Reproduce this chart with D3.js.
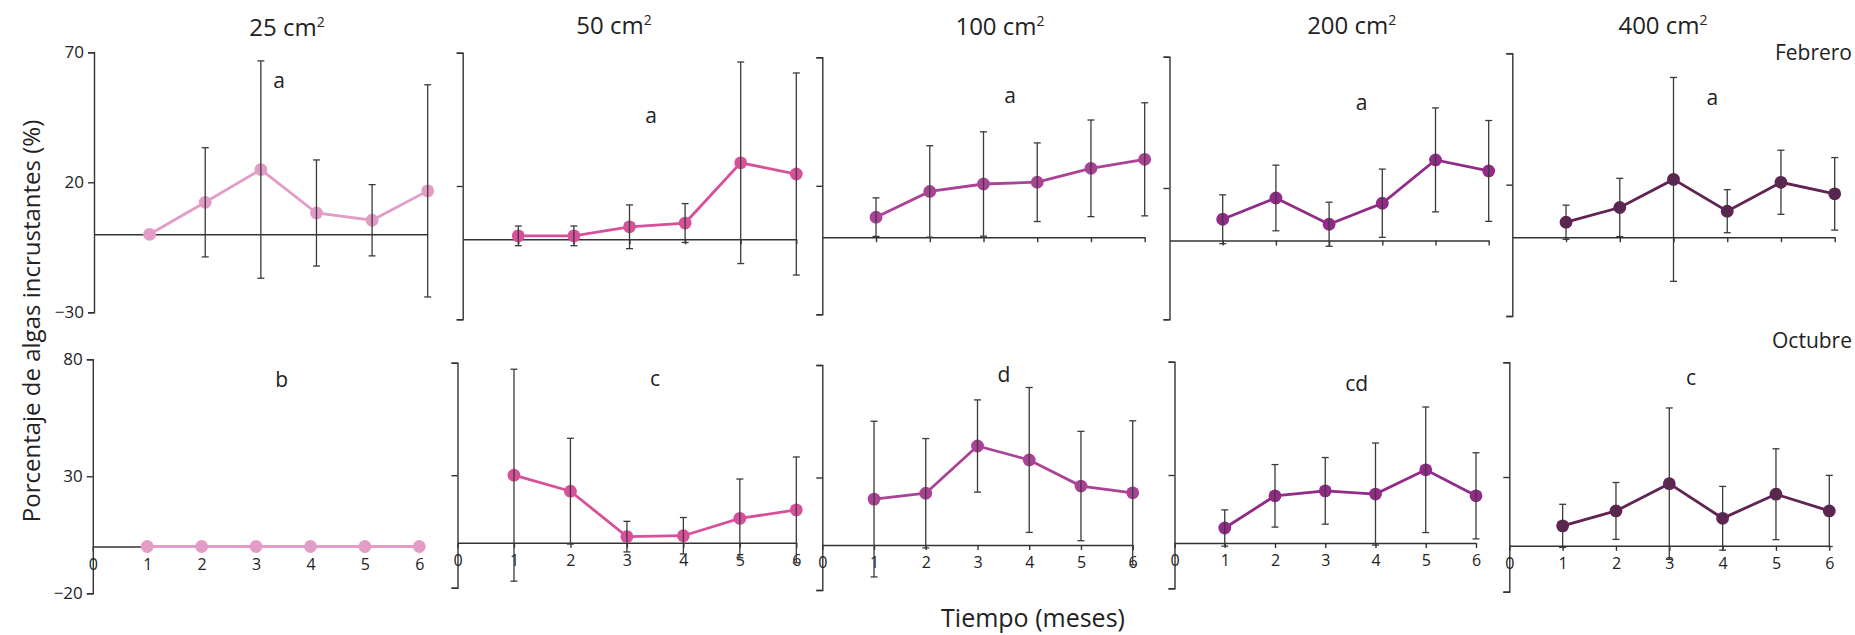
<!DOCTYPE html>
<html>
<head>
<meta charset="utf-8">
<script src="https://cdn.jsdelivr.net/npm/d3@7"></script>
<style>
  html, body { margin: 0; padding: 0; background: #fff; }
  svg { display: block; font-family: "Open Sans", "Noto Sans", sans-serif; }
</style>
</head>
<body>
<svg id="chart" width="1855" height="635"></svg>
<script>
// Months of sampling
const months = [1, 2, 3, 4, 5, 6];

// Plot sizes (cm²), one column per size
const sizes = ["25", "50", "100", "200", "400"];

// February: mean cover (%) and error, per plot size
const febMean = [
  [0, 12.3, 24.9, 8.2, 5.4, 16.7],
  [1.3, 1.3, 4.7, 6.1, 28.7, 24.5],
  [7.8, 17.8, 20.7, 21.4, 26.8, 30.3],
  [8.1, 16.2, 6.2, 14.2, 30.7, 26.5],
  [5.7, 11.3, 22.0, 9.9, 20.9, 16.5]
];
const febErr = [
  [0, 21.0, 41.8, 20.4, 13.7, 40.8],
  [3.7, 3.7, 8.2, 7.3, 37.8, 37.9],
  [7.5, 17.8, 20.3, 15.3, 18.8, 22.0],
  [9.3, 12.5, 8.4, 13.0, 19.8, 19.2],
  [6.5, 11.1, 38.8, 8.2, 12.2, 13.8]
];

// October: mean cover (%) and error, per plot size
const octMean = [
  [0, 0, 0, 0, 0, 0],
  [30.0, 22.9, 2.7, 3.1, 10.8, 14.6],
  [20.4, 23.0, 44.0, 37.8, 26.2, 23.2],
  [6.6, 20.8, 23.0, 21.6, 32.3, 20.8],
  [8.7, 15.2, 27.1, 12.0, 22.5, 15.2]
];
const octErr = [
  [0, 0, 0, 0, 0, 0],
  [47.1, 23.5, 6.8, 8.1, 17.5, 23.5],
  [34.6, 24.3, 20.5, 32.2, 24.3, 32.0],
  [8.0, 13.8, 14.7, 22.5, 27.7, 19.0],
  [9.4, 12.4, 33.0, 13.9, 19.8, 15.5]
];

// Significance letters
const febLetters = ["a", "a", "a", "a", "a"];
const octLetters = ["b", "c", "d", "cd", "c"];

// Y ticks for each row
const febTicks = [-30, 20, 70];
const octTicks = [-20, 30, 80];
const xTickLabels = ["0", "1", "2", "3", "4", "5", "6"];

// Series colour for each plot size
const colors = ["#e29cc5", "#d8509a", "#aa4396", "#922a87", "#5f2453"];

// Panel placement: x range of months 0..6, y range of the axis extent,
// letter anchor and title anchor.
const febLayout = [
  { x0: 94,    x6: 427.7,  yTop: 52.3, yBot: 312.3, lx: 279,    ly: 88,  tx: 287,    ty: 36 },
  { x0: 462.7, x6: 796.3,  yTop: 52.7, yBot: 319.3, lx: 651,    ly: 123, tx: 614,    ty: 34 },
  { x0: 822.3, x6: 1144.7, yTop: 57.3, yBot: 314.3, lx: 1010,   ly: 103, tx: 1000,   ty: 35 },
  { x0: 1169.5,x6: 1488.7, yTop: 56.7, yBot: 319.3, lx: 1361.7, ly: 110, tx: 1351.7, ty: 34 },
  { x0: 1512.3,x6: 1834.7, yTop: 53.3, yBot: 316,   lx: 1712.3, ly: 105, tx: 1663,   ty: 34 }
];
const octLayout = [
  { x0: 92.8,  x6: 419.3,  yTop: 359.3, yBot: 593.3, lx: 281.7,  ly: 387 },
  { x0: 457.5, x6: 796.3,  yTop: 362.7, yBot: 587.7, lx: 655,    ly: 386 },
  { x0: 822.3, x6: 1132.7, yTop: 365,   yBot: 590,   lx: 1004,   ly: 382 },
  { x0: 1174.5,x6: 1476,   yTop: 361.7, yBot: 588.3, lx: 1356.7, ly: 391 },
  { x0: 1509.3,x6: 1829.3, yTop: 362.3, yBot: 591.7, lx: 1691,   ly: 385 }
];

const svg = d3.select("#chart");
const axisColor = "#333";

function drawPanel(i, means, errs, ticks, layout, letter, isBottom) {
  const g = svg.append("g");
  const x = d3.scaleLinear().domain([0, 6]).range([layout.x0, layout.x6]);
  const y = d3.scaleLinear().domain([ticks[0], ticks[2]]).range([layout.yBot, layout.yTop]);

  // Y axis: bracket with left ticks; values only on the first column
  const yAxis = d3.axisLeft(y)
    .tickValues(ticks)
    .tickSize(6)
    .tickSizeOuter(6)
    .tickPadding(4)
    .tickFormat(i === 0 ? d3.format("d") : () => "");
  const gy = g.append("g").attr("transform", `translate(${layout.x0},0)`).call(yAxis);
  gy.select(".domain").attr("stroke", axisColor).attr("stroke-width", 1.4);
  gy.selectAll(".tick line").attr("stroke", axisColor).attr("stroke-width", 1.4);
  gy.selectAll(".tick text")
    .attr("font-family", "Open Sans")
    .attr("font-size", 17)
    .attr("fill", "#222");

  // Zero line with month ticks
  const xAxis = d3.axisBottom(x)
    .tickValues(isBottom ? [0, ...months] : months)
    .tickSize(i === 0 && !isBottom ? 0 : 5)
    .tickSizeOuter(0)
    .tickPadding(7)
    .tickFormat(isBottom ? (d => xTickLabels[d]) : () => "");
  const gx = g.append("g").attr("transform", `translate(0,${y(0)})`).call(xAxis);
  gx.select(".domain").attr("stroke", axisColor).attr("stroke-width", 1.4);
  gx.selectAll(".tick line").attr("stroke", axisColor).attr("stroke-width", 1.4);
  gx.selectAll(".tick text")
    .attr("font-family", "Open Sans")
    .attr("font-size", 16)
    .attr("fill", "#222");

  const pts = months.map((m, k) => ({ m, v: means[k], e: errs[k] }));

  // Connecting line
  g.append("path")
    .datum(pts)
    .attr("fill", "none")
    .attr("stroke", colors[i])
    .attr("stroke-width", 2.8)
    .attr("d", d3.line().x(d => x(d.m)).y(d => y(d.v)));

  // Points
  g.selectAll("circle.pt").data(pts).join("circle")
    .attr("class", "pt")
    .attr("cx", d => x(d.m))
    .attr("cy", d => y(d.v))
    .attr("r", 6.4)
    .attr("fill", colors[i]);

  // Error bars
  const eb = g.selectAll("g.eb").data(pts.filter(d => d.e > 0)).join("g").attr("class", "eb")
    .attr("stroke", "#3a3a3a").attr("stroke-width", 1.3);
  eb.append("line")
    .attr("x1", d => x(d.m)).attr("x2", d => x(d.m))
    .attr("y1", d => y(d.v + d.e)).attr("y2", d => y(d.v - d.e));
  eb.append("line")
    .attr("x1", d => x(d.m) - 3.5).attr("x2", d => x(d.m) + 3.5)
    .attr("y1", d => y(d.v + d.e)).attr("y2", d => y(d.v + d.e));
  eb.append("line")
    .attr("x1", d => x(d.m) - 3.5).attr("x2", d => x(d.m) + 3.5)
    .attr("y1", d => y(d.v - d.e)).attr("y2", d => y(d.v - d.e));

  // Significance letter
  g.append("text")
    .attr("x", layout.lx).attr("y", layout.ly)
    .attr("text-anchor", "middle")
    .attr("font-size", 21)
    .attr("fill", "#222")
    .text(letter);

  // Column title
  if (!isBottom) {
    const t = g.append("text")
      .attr("x", layout.tx).attr("y", layout.ty)
      .attr("text-anchor", "middle")
      .attr("font-size", 24)
      .attr("fill", "#222");
    t.append("tspan").text(sizes[i] + " cm");
    t.append("tspan").attr("font-size", 14).attr("dy", -9).text("2");
  }
}

sizes.forEach((s, i) => {
  drawPanel(i, febMean[i], febErr[i], febTicks, febLayout[i], febLetters[i], false);
  drawPanel(i, octMean[i], octErr[i], octTicks, octLayout[i], octLetters[i], true);
});

// Row labels
svg.append("text").attr("x", 1852).attr("y", 60).attr("text-anchor", "end")
  .attr("font-size", 21).attr("fill", "#222").text("Febrero");
svg.append("text").attr("x", 1852).attr("y", 348).attr("text-anchor", "end")
  .attr("font-size", 21).attr("fill", "#222").text("Octubre");

// Axis titles
svg.append("text")
  .attr("transform", "translate(30,321) rotate(-90)")
  .attr("text-anchor", "middle")
  .attr("dominant-baseline", "central")
  .attr("font-size", 24)
  .attr("fill", "#222")
  .text("Porcentaje de algas incrustantes (%)");
svg.append("text")
  .attr("x", 1033).attr("y", 627)
  .attr("text-anchor", "middle")
  .attr("font-size", 25)
  .attr("fill", "#222")
  .text("Tiempo (meses)");
</script>
</body>
</html>
